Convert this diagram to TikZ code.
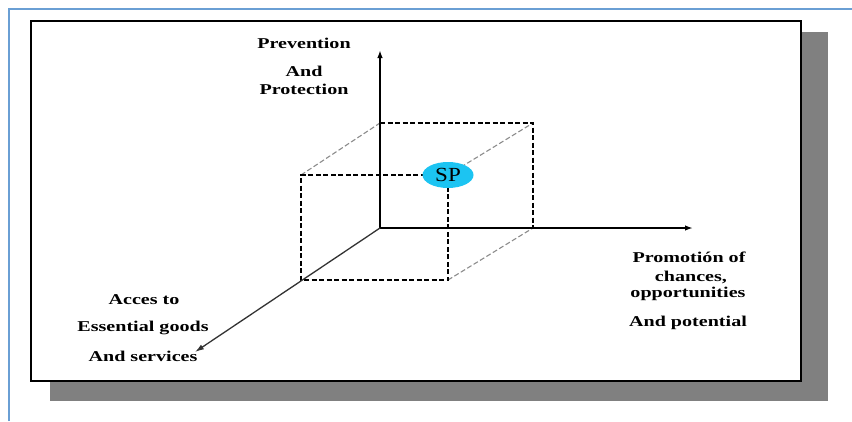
\documentclass[tikz,border=0pt]{standalone}
\usepackage{fontspec}
\setmainfont{Liberation Serif}
\newfontfamily\lblfont{Liberation Serif}[FakeStretch=1.34]
\newfontfamily\spfont{Liberation Serif}[FakeStretch=1.15]
\usetikzlibrary{arrows.meta,shapes.geometric}
\definecolor{frameblue}{HTML}{6A9FD4}
\definecolor{shadowgray}{HTML}{808080}
\definecolor{spcyan}{HTML}{1CC4F2}
\tikzset{
  lbl/.style={font=\lblfont\bfseries\fontsize{15}{17}\selectfont, inner sep=0pt, anchor=center},
  axis/.style={line width=1.6pt, draw=black, -{Latex[length=8pt,width=5.5pt]}},
  diagaxis/.style={line width=1.3pt, draw=black!80, -{Latex[length=9pt,width=5.5pt]}},
  cubedash/.style={line width=1.2pt, draw=black, dash pattern=on 5pt off 2.5pt},
  cubegray/.style={line width=1.1pt, draw=black!45, dash pattern=on 5pt off 2.5pt},
  spnode/.style={ellipse, fill=spcyan, minimum width=51pt, minimum height=26pt, inner sep=0pt, font=\spfont\fontsize{20}{22}\selectfont},
}
\begin{document}
\begin{tikzpicture}[x=1pt,y=-1pt]
\useasboundingbox (0,0) rectangle (852,421);
% shadow and box
\fill[shadowgray] (50,32) rectangle (828,401);
\node[draw=black, line width=1.5pt, fill=white, minimum width=770pt, minimum height=360pt, inner sep=0pt, anchor=north west] (box) at (30,20) {};
% blue frame lines
\coordinate (fa) at (9,421);
\coordinate (fb) at (9,9);
\coordinate (fc) at (852,9);
\draw[frameblue, line width=1.6pt] (fa) -- (fb) -- (fc);
% cube corners
\coordinate (O) at (380,228);
\coordinate (bt) at (380,123);
\coordinate (btr) at (533,123);
\coordinate (bbr) at (533,228);
\coordinate (ftl) at (301,175);
\coordinate (fbl) at (301,280);
\coordinate (fbr) at (448,280);
\coordinate (spc) at (448,175);
% gray depth dashes
\draw[cubegray] (ftl) -- (bt);
\draw[cubegray] (spc) -- (btr);
\draw[cubegray] (fbr) -- (bbr);
% black dashed edges
\draw[cubedash] (bt) -- (btr) -- (bbr);
\draw[cubedash] (spc) -- (ftl) -- (fbl) -- (fbr) -- (spc);
% axes
\coordinate (yend) at (380,50);
\coordinate (xend) at (693,228);
\coordinate (zend) at (195,352);
\draw[axis] (O) -- (yend);
\draw[axis] (O) -- (xend);
\draw[diagaxis] (O) -- (zend);
% SP on top
\node[spnode] (sp) at (spc) {SP};
% labels
\node[lbl] (p1) at (304,43) {Prevention};
\node[lbl] (p2) at (304,71) {And};
\node[lbl] (p3) at (304,89) {Protection};
\node[lbl] (r1) at (689,257) {Promotión of};
\node[lbl] (r2) at (691,277) {chances,};
\node[lbl] (r3) at (688,294) {opportunities};
\node[lbl] (r4) at (688,323) {And potential};
\node[lbl] (l1) at (144,300) {Acces to};
\node[lbl] (l2) at (143,328) {Essential goods};
\node[lbl] (l3) at (143,356) {And services};
\end{tikzpicture}
\end{document}
